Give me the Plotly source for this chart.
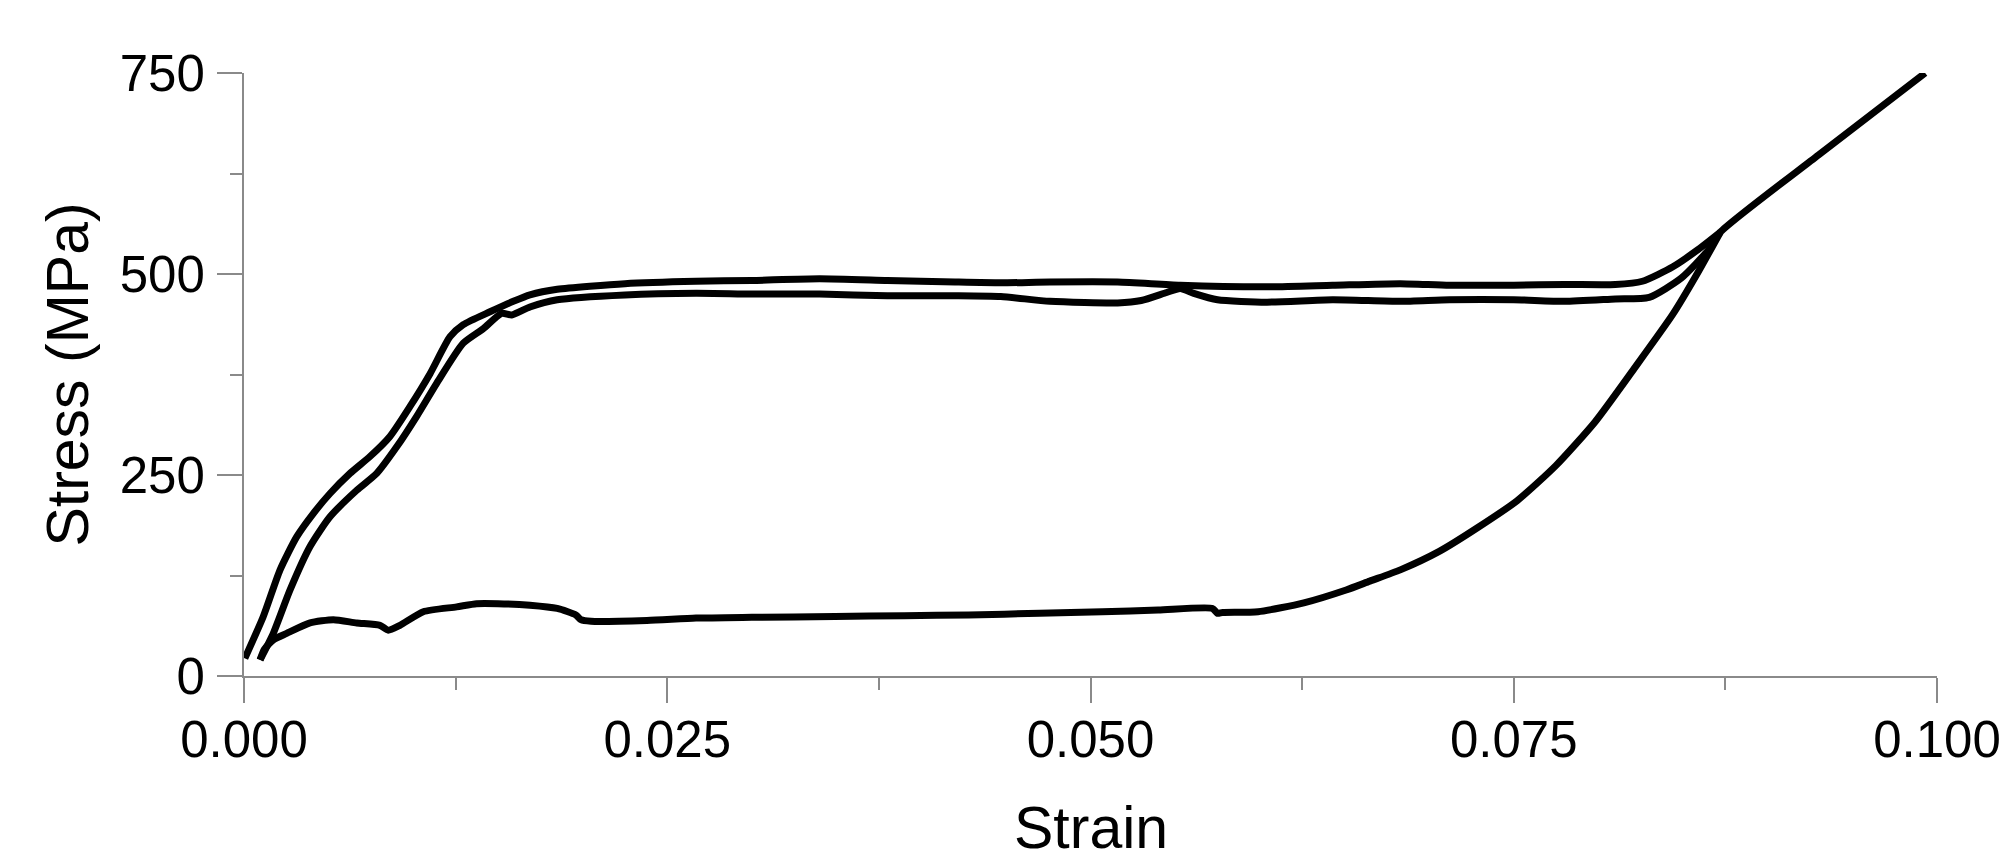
import plotly.graph_objects as go

# Loading cycle 1 (outer upper curve)
load1_strain = [0.00005, 0.00114, 0.00213, 0.00311, 0.00409, 0.00508, 0.00626, 0.00744, 0.00862, 0.0098,
                0.01099, 0.01217, 0.01295, 0.01453, 0.01591, 0.01689, 0.0185, 0.0225, 0.0267, 0.0300,
                0.0340, 0.0380, 0.0420, 0.0447, 0.0476, 0.0516, 0.0553, 0.0604, 0.0643, 0.0683,
                0.0712, 0.0750, 0.0780, 0.0810, 0.0826, 0.0844, 0.0858, 0.0872]
load1_stress = [22, 74, 132, 173, 202, 227, 252, 273, 298, 335,
                376, 422, 437, 453, 466, 474, 481, 488, 491, 492,
                494, 492, 490, 489, 490, 490, 486, 484, 486, 488,
                486, 486, 487, 487, 491, 509, 529, 552]

# Unloading branch (lower plateau)
unload_strain = [0.0872, 0.0858, 0.0844, 0.0821, 0.0798, 0.0775, 0.0752, 0.0729, 0.0706, 0.0683,
                 0.0665, 0.0651, 0.0626, 0.0599, 0.0578, 0.0575, 0.0572, 0.0540, 0.0507, 0.0470,
                 0.0428, 0.0390, 0.0349, 0.0300, 0.0267, 0.0238, 0.0205, 0.0199, 0.0196, 0.0185,
                 0.01689, 0.01500, 0.01374, 0.01256, 0.01059, 0.00921, 0.00852, 0.00803, 0.00666, 0.00528,
                 0.0039, 0.00252, 0.00173, 0.0012, 0.00095]
unload_stress = [552, 499, 450, 382, 316, 262, 218, 185, 155, 132,
                 118, 107, 91, 80, 79, 78, 84, 82, 80, 78,
                 76, 75, 74, 73, 72, 69, 68, 70, 76, 84,
                 88, 90, 90, 86, 80, 63, 57, 63, 66, 70,
                 66, 53, 45, 33, 20]

# Loading cycle 2 (inner curve, continuing to 750 MPa)
load2_strain = [0.00095, 0.00173, 0.00272, 0.0039, 0.00508, 0.00666, 0.00784, 0.00902, 0.0102, 0.01138,
                0.01295, 0.01413, 0.01522, 0.01581, 0.01689, 0.0185, 0.0225, 0.0267, 0.0300, 0.0340,
                0.0380, 0.0420, 0.0447, 0.0476, 0.0516, 0.0530, 0.0545, 0.0553, 0.0561, 0.0575,
                0.0604, 0.0643, 0.0683, 0.0712, 0.0750, 0.0780, 0.0810, 0.0830, 0.0849, 0.0865,
                0.0872, 0.0930, 0.0993]
load2_stress = [20, 53, 107, 161, 198, 231, 252, 285, 323, 364,
                414, 432, 451, 449, 459, 468, 474, 476, 475, 475,
                473, 473, 472, 466, 464, 467, 477, 482, 476, 468,
                465, 468, 466, 468, 468, 466, 469, 471, 495, 530,
                552, 648, 750]

x_ticks = [0.000, 0.025, 0.050, 0.075, 0.100]
x_ticklabels = ["0.000", "0.025", "0.050", "0.075", "0.100"]
y_ticks = [0, 250, 500, 750]
y_ticklabels = ["0", "250", "500", "750"]
x_title = "Strain"
y_title = "Stress (MPa)"

line_style = dict(color="black", width=7, shape="spline", smoothing=0.6)
fig = go.Figure()
fig.add_trace(go.Scatter(x=load1_strain, y=load1_stress, mode="lines", line=line_style, name="Loading 1"))
fig.add_trace(go.Scatter(x=unload_strain, y=unload_stress, mode="lines", line=line_style, name="Unloading"))
fig.add_trace(go.Scatter(x=load2_strain, y=load2_stress, mode="lines", line=line_style, name="Loading 2"))

axis_col = "#8a8a8a"
font_fam = "Liberation Sans, Arial, sans-serif"
fig.update_layout(
    width=2011, height=858,
    margin=dict(l=244, r=74, t=73, b=182),
    paper_bgcolor="white", plot_bgcolor="white",
    showlegend=False,
    font=dict(family=font_fam, color="black"),
    annotations=[dict(
        text=x_title, xref="paper", yref="paper", x=0.5, y=-0.194,
        xanchor="center", yanchor="top", showarrow=False,
        font=dict(size=59, family=font_fam, color="black"),
    )],
)
fig.update_xaxes(
    range=[0, 0.1], tickvals=x_ticks, ticktext=x_ticklabels, automargin=False,
    showline=True, linecolor=axis_col, linewidth=2, showgrid=False, zeroline=False,
    ticks="outside", ticklen=25, tickwidth=2, tickcolor=axis_col,
    minor=dict(ticks="outside", ticklen=12, tickwidth=2, tickcolor=axis_col, dtick=0.0125, showgrid=False),
    tickfont=dict(size=51, family=font_fam, color="black"),
    ticklabelstandoff=-7,
)
fig.update_yaxes(
    range=[0, 750], tickvals=y_ticks, ticktext=y_ticklabels, automargin=False,
    showline=True, linecolor=axis_col, linewidth=2, showgrid=False, zeroline=False,
    ticks="outside", ticklen=25, tickwidth=2, tickcolor=axis_col,
    minor=dict(ticks="outside", ticklen=12, tickwidth=2, tickcolor=axis_col, dtick=125, showgrid=False),
    tickfont=dict(size=51, family=font_fam, color="black"),
    ticklabelstandoff=2,
    title=dict(text=y_title, font=dict(size=59, family=font_fam, color="black"), standoff=12),
)
fig.write_html("out.html")
